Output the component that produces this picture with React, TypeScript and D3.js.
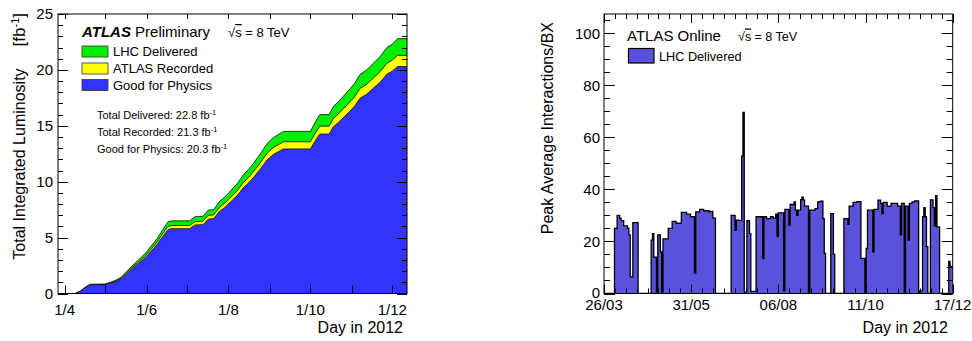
import * as d3 from 'd3'
import { useEffect, useRef } from 'react'

// ---- left: integrated luminosity, x = days since 1 April 2012
const lumiDays = [
  0, 8, 12, 15, 19, 30, 34, 38, 42, 46, 50, 54, 58, 61, 65, 69, 73, 77, 80, 93,
  97, 103, 107, 111, 115, 119, 122, 126, 129, 133, 137, 141, 146, 151, 156, 163,
  183, 187, 190, 197, 200, 205, 211, 216, 220, 225, 230, 235, 240, 244, 248, 256,
]
const lumiDelivered = [
  0, 0, 0.25, 0.54, 0.83, 0.85, 1.0, 1.19, 1.45, 1.95, 2.45, 2.9, 3.35, 3.73,
  4.33, 4.95, 5.7, 6.42, 6.5, 6.5, 6.87, 6.9, 7.47, 7.5, 8.2, 8.6, 8.97, 9.5, 9.9,
  10.6, 11.1, 11.7, 12.55, 13.45, 14.0, 14.5, 14.5, 15.4, 16.0, 16.0, 16.7, 17.3,
  18.1, 18.8, 19.6, 20.0, 20.6, 21.2, 22.0, 22.3, 22.8, 22.8,
]
const lumiRecorded = [
  0, 0, 0.24, 0.51, 0.8, 0.81, 0.95, 1.12, 1.36, 1.83, 2.3, 2.72, 3.14, 3.5,
  4.06, 4.64, 5.34, 6.01, 6.08, 6.08, 6.43, 6.46, 6.99, 7.02, 7.67, 8.05, 8.4,
  8.89, 9.26, 9.92, 10.39, 10.95, 11.74, 12.59, 13.1, 13.57, 13.57, 14.41, 14.97,
  14.97, 15.63, 16.19, 16.94, 17.59, 18.34, 18.72, 19.27, 19.84, 20.58, 20.87,
  21.3, 21.3,
]
const lumiGood = [
  0, 0, 0.23, 0.49, 0.78, 0.79, 0.92, 1.08, 1.3, 1.75, 2.2, 2.6, 3.0, 3.34,
  3.87, 4.42, 5.09, 5.73, 5.8, 5.8, 6.13, 6.16, 6.66, 6.69, 7.31, 7.67, 8.0,
  8.47, 8.83, 9.45, 9.9, 10.43, 11.19, 11.99, 12.48, 12.93, 12.93, 13.73, 14.26,
  14.26, 14.89, 15.42, 16.14, 16.76, 17.47, 17.83, 18.37, 18.9, 19.62, 19.89,
  20.3, 20.3,
]
const lumiTickLabels = ['1/4', '1/6', '1/8', '1/10', '1/12']
const lumiLegend = ['LHC Delivered', 'ATLAS Recorded', 'Good for Physics']
const lumiTotals = [
  'Total Delivered: 22.8 fb',
  'Total Recorded: 21.3 fb',
  'Good for Physics: 20.3 fb',
]

// ---- right: peak pile-up, step values starting at day (days since 26 March 2012)
const muDays = [
  0, 8, 10, 12, 13, 15, 18, 19, 20, 22, 26, 36, 37, 38, 40, 41, 43, 44, 45, 49,
  52, 55, 59, 63, 66, 69, 70, 73, 76, 80, 83, 85, 97, 100, 101, 103, 105, 106,
  107, 109, 111, 112, 116, 121, 122, 124, 127, 129, 131, 132, 133, 137, 138, 141,
  142, 145, 146, 147, 148, 150, 151, 152, 153, 156, 157, 161, 163, 165, 167, 168,
  169, 173, 175, 176, 183, 186, 187, 190, 193, 196, 199, 200, 201, 205, 206, 209,
  211, 212, 213, 216, 219, 224, 226, 227, 229, 230, 232, 233, 235, 237, 240, 241,
  243, 244, 245, 246, 247, 249, 251, 252, 253, 254, 256, 263, 264, 266,
]
const muPeak = [
  0, 25, 30, 29, 28, 26, 25, 22.5, 6.4, 27.2, 0, 20.5, 23, 14, 0.5, 22.5, 16, 0.5,
  21, 25, 27.7, 27, 31.2, 30.5, 29.5, 7.8, 31.4, 32.3, 31.8, 31.5, 29, 0, 30, 24.3,
  28.2, 28, 52.8, 69.6, 0.5, 28, 23, 0.8, 29.5, 13.5, 29.5, 28.8, 29.5, 29, 30.5,
  22, 31, 1, 32.3, 26.3, 34.2, 35.2, 32, 30, 32, 36.1, 37, 36, 33.6, 0.5, 32, 32.6,
  35.2, 35.5, 28.8, 15.4, 0, 30.7, 15, 0, 28.8, 26.6, 33.6, 35, 35.3, 13.5, 0, 17.3,
  32, 16, 32.3, 35.9, 34.6, 30.7, 35, 33.6, 34.6, 33.6, 22.5, 34.6, 0.5, 33.6, 20.5,
  34.6, 35.2, 35.6, 0, 1, 29.5, 33, 29.5, 18, 0, 36, 33, 26, 37.6, 25.6, 0, 12.3,
  10.4, 10.4,
]
const muTickLabels = ['26/03', '31/05', '06/08', '11/10', '17/12']

const FONT = '"Liberation Sans", Arial, Helvetica, sans-serif'

function sqrtS(g, x, y, size) {
  var t = g
    .append('text')
    .attr('x', x)
    .attr('y', y)
    .attr('font-size', size)
  t.append('tspan').text('√')
  t.append('tspan').attr('text-decoration', 'overline').text('s')
  t.append('tspan').text(' = 8 TeV')
}

function drawLumi(g) {
  var left = 58,
    right = 407,
    top = 14,
    bottom = 293.5

  var start = new Date(Date.UTC(2012, 3, 1))
  var x = d3
    .scaleUtc()
    .domain([new Date(Date.UTC(2012, 2, 27)), new Date(Date.UTC(2012, 11, 12))])
    .range([left, right])
  var y = d3.scaleLinear().domain([0, 25]).range([bottom, top])

  var dates = lumiDays.map((d) => d3.utcDay.offset(start, d))

  g.append('clipPath')
    .attr('id', 'lumiClip')
    .append('rect')
    .attr('x', left)
    .attr('y', top)
    .attr('width', right - left)
    .attr('height', bottom - top)

  var plot = g.append('g').attr('clip-path', 'url(#lumiClip)')
  var series = [
    [lumiDelivered, '#00ee00'],
    [lumiRecorded, '#ffff00'],
    [lumiGood, '#3333ff'],
  ]
  series.forEach(function (s) {
    var vals = s[0] as number[]
    var area = d3
      .area<number>()
      .x((d, i) => x(dates[i]))
      .y0(y(0))
      .y1((d) => y(d))
    var line = d3
      .line<number>()
      .x((d, i) => x(dates[i]))
      .y((d) => y(d))
    plot.append('path').attr('d', area(vals)).attr('fill', s[1])
    plot
      .append('path')
      .attr('d', line(vals))
      .attr('fill', 'none')
      .attr('stroke', '#111')
      .attr('stroke-width', 0.8)
  })

  // frame + ticks
  g.append('rect')
    .attr('x', left)
    .attr('y', top)
    .attr('width', right - left)
    .attr('height', bottom - top)
    .attr('fill', 'none')
    .attr('stroke', '#000')

  var ticks = g.append('g').attr('stroke', '#000').attr('stroke-width', 1)
  d3.range(0, 26).forEach(function (v) {
    var len = v % 5 === 0 ? 10 : 5
    var yy = Math.round(y(v)) + 0.5
    ticks.append('line').attr('x1', left).attr('x2', left + len).attr('y1', yy).attr('y2', yy)
    ticks.append('line').attr('x1', right).attr('x2', right - len).attr('y1', yy).attr('y2', yy)
  })
  var months = d3.utcMonth.range(start, new Date(Date.UTC(2012, 11, 2)))
  months.forEach(function (m) {
    var xx = Math.round(x(m)) + 0.5
    ticks.append('line').attr('x1', xx).attr('x2', xx).attr('y1', bottom).attr('y2', bottom - 8)
    ticks.append('line').attr('x1', xx).attr('x2', xx).attr('y1', top).attr('y2', top + 5)
  })

  d3.range(0, 26, 5).forEach(function (v) {
    g.append('text')
      .attr('x', 53)
      .attr('y', y(v))
      .attr('dy', '0.36em')
      .attr('text-anchor', 'end')
      .attr('font-size', 15)
      .text(v)
  })
  months
    .filter((m, i) => i % 2 === 0)
    .forEach(function (m, i) {
      g.append('text')
        .attr('x', x(m))
        .attr('y', 315)
        .attr('text-anchor', 'middle')
        .attr('font-size', 15)
        .text(lumiTickLabels[i])
    })

  g.append('text')
    .attr('x', 403)
    .attr('y', 333)
    .attr('text-anchor', 'end')
    .attr('font-size', 16)
    .text('Day in 2012')

  var yt = g
    .append('text')
    .attr('transform', 'translate(25,13) rotate(-90)')
    .attr('text-anchor', 'end')
    .attr('font-size', 16)
  yt.append('tspan').text('Total Integrated Luminosity')
  yt.append('tspan').attr('dx', 22).attr('font-size', 17).text('[fb')
  yt.append('tspan').attr('dy', -6).attr('font-size', 11).text('-1')
  yt.append('tspan').attr('dy', 6).attr('font-size', 17).text(']')

  // legend
  var h = g.append('text').attr('x', 82).attr('y', 37).attr('font-size', 15)
  h.append('tspan').attr('font-weight', 'bold').attr('font-style', 'italic').text('ATLAS')
  h.append('tspan').text(' Preliminary')
  sqrtS(g, 228, 37, 13)

  var boxY = [46, 63, 79.5]
  series.forEach(function (s, i) {
    g.append('rect')
      .attr('x', 82)
      .attr('y', boxY[i])
      .attr('width', 26)
      .attr('height', 11)
      .attr('fill', s[1])
      .attr('stroke', '#333')
      .attr('stroke-width', 0.8)
    g.append('text')
      .attr('x', 113)
      .attr('y', boxY[i] + 10)
      .attr('font-size', 13)
      .text(lumiLegend[i])
  })

  lumiTotals.forEach(function (t, i) {
    var tt = g
      .append('text')
      .attr('x', 97)
      .attr('y', 119 + i * 17)
      .attr('font-size', 11)
    tt.append('tspan').text(t)
    tt.append('tspan').attr('dy', -4).attr('font-size', 7.5).text('-1')
  })
}

function drawMu(g) {
  var left = 604,
    right = 952.7,
    top = 14,
    bottom = 293.5

  var x = d3.scaleLinear().domain([0, 266]).range([left, right])
  var y = d3.scaleLinear().domain([0, 107.4]).range([bottom, top])

  g.append('clipPath')
    .attr('id', 'muClip')
    .append('rect')
    .attr('x', left)
    .attr('y', top)
    .attr('width', right - left)
    .attr('height', bottom - top)

  var plot = g.append('g').attr('clip-path', 'url(#muClip)')
  var area = d3
    .area<number>()
    .curve(d3.curveStepAfter)
    .x((d, i) => x(muDays[i]))
    .y0(y(0))
    .y1((d) => y(d))
  var line = d3
    .line<number>()
    .curve(d3.curveStepAfter)
    .x((d, i) => x(muDays[i]))
    .y((d) => y(d))
  plot.append('path').attr('d', area(muPeak)).attr('fill', '#5a52da')
  plot
    .append('path')
    .attr('d', line(muPeak))
    .attr('fill', 'none')
    .attr('stroke', '#000')
    .attr('stroke-width', 1.3)

  g.append('rect')
    .attr('x', left)
    .attr('y', top)
    .attr('width', right - left)
    .attr('height', bottom - top)
    .attr('fill', 'none')
    .attr('stroke', '#000')

  var ticks = g.append('g').attr('stroke', '#000').attr('stroke-width', 1)
  d3.range(0, 106, 5).forEach(function (v) {
    var len = v % 20 === 0 ? 11 : 6
    var yy = Math.round(y(v)) + 0.5
    ticks.append('line').attr('x1', left).attr('x2', left + len).attr('y1', yy).attr('y2', yy)
    ticks.append('line').attr('x1', right).attr('x2', right - len).attr('y1', yy).attr('y2', yy)
  })
  var step = 266 / 4
  d3.range(0, 33).forEach(function (k) {
    var d = (k * step) / 8
    var len = k % 8 === 0 ? 9 : 5
    var xx = Math.round(x(d)) + 0.5
    ticks.append('line').attr('x1', xx).attr('x2', xx).attr('y1', bottom).attr('y2', bottom - len)
    ticks.append('line').attr('x1', xx).attr('x2', xx).attr('y1', top).attr('y2', top + len)
  })

  d3.range(0, 101, 20).forEach(function (v) {
    g.append('text')
      .attr('x', 600)
      .attr('y', y(v))
      .attr('dy', v === 0 ? '0.3em' : '0.36em')
      .attr('text-anchor', 'end')
      .attr('font-size', 15)
      .text(v)
  })
  muTickLabels.forEach(function (t, i) {
    g.append('text')
      .attr('x', x(i * step))
      .attr('y', 310)
      .attr('text-anchor', 'middle')
      .attr('font-size', 15)
      .text(t)
  })

  g.append('text')
    .attr('x', 948)
    .attr('y', 333)
    .attr('text-anchor', 'end')
    .attr('font-size', 16)
    .text('Day in 2012')

  g.append('text')
    .attr('transform', 'translate(553,22) rotate(-90)')
    .attr('text-anchor', 'end')
    .attr('font-size', 16)
    .text('Peak Average Interactions/BX')

  g.append('text').attr('x', 627).attr('y', 40.5).attr('font-size', 15).text('ATLAS Online')
  sqrtS(g, 738, 40.5, 12.5)

  g.append('rect')
    .attr('x', 628.5)
    .attr('y', 48.5)
    .attr('width', 25.5)
    .attr('height', 14.5)
    .attr('fill', '#5a52da')
    .attr('stroke', '#000')
    .attr('stroke-width', 1.2)
  g.append('text').attr('x', 659).attr('y', 60.5).attr('font-size', 12.7).text('LHC Delivered')
}

const App = () => {
  const ref = useRef<SVGSVGElement>(null)

  useEffect(() => {
    var svg = d3.select(ref.current)
    svg.selectAll('*').remove()
    drawLumi(svg.append('g'))
    drawMu(svg.append('g'))
  }, [])

  return (
    <svg
      ref={ref}
      width={972}
      height={341}
      style={{ position: 'absolute', left: 0, top: 0, background: '#fff', fontFamily: FONT }}
    />
  )
}

export default App
